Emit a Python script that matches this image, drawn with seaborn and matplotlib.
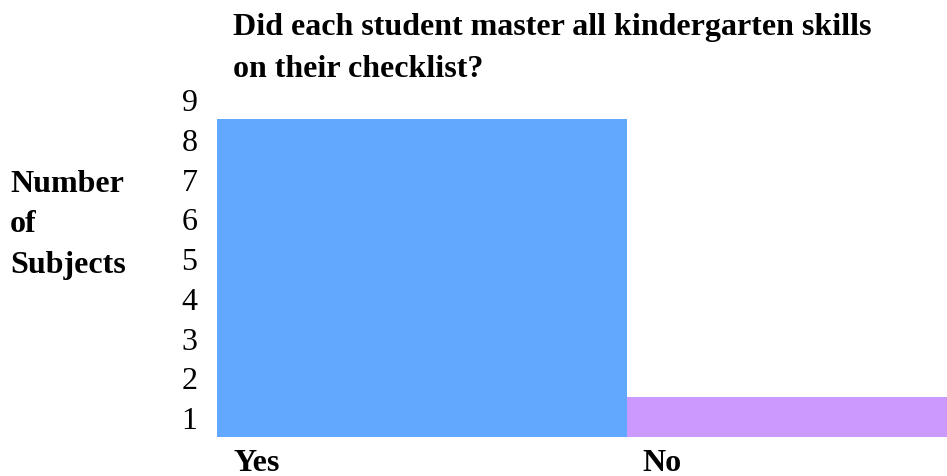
import matplotlib
matplotlib.use("Agg")
import matplotlib.pyplot as plt
import matplotlib.transforms as mtransforms
import seaborn as sns
import pandas as pd

# Chart data
categories = ["Yes", "No"]
counts = [8, 1]
bar_colors = ["#62A8FF", "#CC99FF"]
tick_labels = ["1", "2", "3", "4", "5", "6", "7", "8", "9"]
title = "Did each student master all kindergarten skills\non their checklist?"
y_title = "Number\nof\nSubjects"

sns.set_style("white")
plt.rcParams["font.family"] = ["Liberation Serif", "DejaVu Serif"]
plt.rcParams["text.color"] = "black"
plt.rcParams["xtick.color"] = "black"
plt.rcParams["ytick.color"] = "black"

W, H = 947, 477
fig = plt.figure(figsize=(W / 100, H / 100), dpi=100)
ax = fig.add_axes([217 / W, 1 - 438 / H, 1 - 217 / W, 357.75 / H])

df = pd.DataFrame({"answer": categories, "count": counts})
sns.barplot(data=df, x="answer", y="count", hue="answer", palette=bar_colors,
            width=1.0, legend=False, saturation=1, linewidth=0, ax=ax)

ax.set_ylim(0, 9)
ax.set_xlim(-0.5, 0.5 + 320.5 / 409.5)
for s in ax.spines.values():
    s.set_visible(False)
ax.set_xlabel("")
ax.set_ylabel("")

# Value labels sit in the middle of each unit band
ax.set_yticks([i + 0.5 for i in range(len(tick_labels))])
ax.set_yticklabels(tick_labels, fontsize=23, color="black")
ax.tick_params(axis="y", length=0, pad=14)

# Category labels left-aligned near each bar's left edge
ax.set_xticks([i - 0.5 for i in range(len(categories))])
ax.set_xticklabels(categories, fontsize=23, fontweight="bold", ha="left",
                   color="black")
ax.tick_params(axis="x", length=0, pad=8)
offset = mtransforms.ScaledTranslation(16 / 100, 0, fig.dpi_scale_trans)
for lab in ax.get_xticklabels():
    lab.set_transform(lab.get_transform() + offset)

fig.text(233 / W, 1 - 13 / H, title, fontsize=23, fontweight="bold",
         ha="left", va="top", linespacing=1.6, color="black")
fig.text(10 / W, 1 - 225 / H, y_title, fontsize=23, fontweight="bold",
         ha="left", va="center", linespacing=1.52, color="black")

fig.savefig("out.png", dpi=100)
